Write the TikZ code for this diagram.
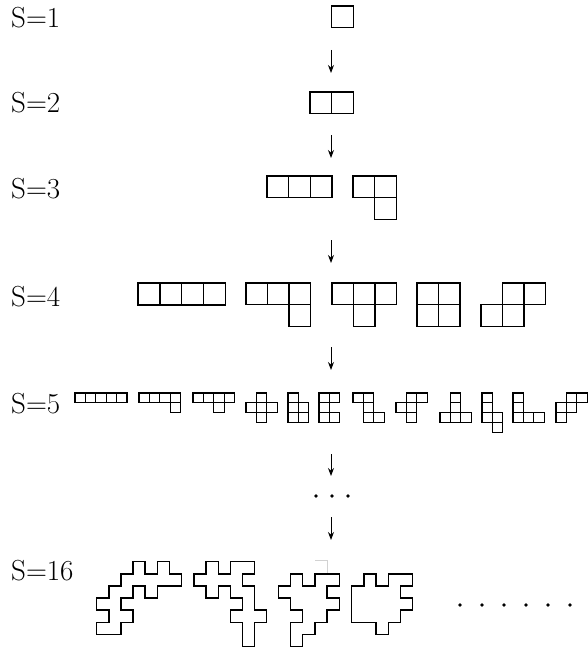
\documentclass[tikz,border=0pt]{standalone}
\usetikzlibrary{arrows.meta}
% draw a polyomino as separate unit cells: #1 origin, #2 cell width, #3 cell height, #4 list of col/row
\newcommand\polycells[4]{%
  \begin{scope}[shift={#1}, x=#2, y=-#3]
    \foreach \cx/\cy in {#4} \draw[cellline] (\cx,\cy) rectangle ++(1,1);
  \end{scope}}
\begin{document}
\begin{tikzpicture}[x=1pt,y=-1pt,
  cellline/.style={line width=1.3pt, line join=miter},
  outline/.style={line width=1.4pt, line join=miter},
  flow/.style={line width=0.9pt, -{Stealth[length=8pt,width=6pt]}},
  lbl/.style={anchor=base west, inner sep=0pt, font=\fontsize{29}{32}\selectfont},
  dot/.style={circle, fill, inner sep=0pt, minimum size=3.6pt}]
\useasboundingbox (0,0) rectangle (588,650);

% row labels
\node[lbl] (s1)  at (11,28)  {S=1};
\node[lbl] (s2)  at (11,113) {S=2};
\node[lbl] (s3)  at (11,198) {S=3};
\node[lbl] (s4)  at (11,306) {S=4};
\node[lbl] (s5)  at (11,413) {S=5};
\node[lbl] (s16) at (11,580) {S=16};

% S = 1 .. 4
\polycells{(331.5,6)}{21.7pt}{21.7pt}{0/0}
\polycells{(310,92)}{21.7pt}{21.7pt}{0/0,1/0}
\polycells{(267,176)}{21.7pt}{21.7pt}{0/0,1/0,2/0}
\polycells{(353,176)}{21.7pt}{21.7pt}{0/0,1/0,1/1}
\polycells{(138,283)}{21.9pt}{21.9pt}{0/0,1/0,2/0,3/0}
\polycells{(246,283)}{21.5pt}{21.7pt}{0/0,1/0,2/0,2/1}
\polycells{(332,283)}{21.5pt}{21.7pt}{0/0,1/0,2/0,1/1}
\polycells{(417,283)}{21.5pt}{21.7pt}{0/0,1/0,0/1,1/1}
\polycells{(481,283)}{21.5pt}{21.7pt}{1/0,2/0,0/1,1/1}

% S = 5 (twelve pentominoes: I L Y X P U Z F T N V W)
\polycells{(75,393)}{10.4pt}{9.8pt}{0/0,1/0,2/0,3/0,4/0}
\polycells{(139,393)}{10.4pt}{9.8pt}{0/0,1/0,2/0,3/0,3/1}
\polycells{(193,393)}{10.4pt}{9.8pt}{0/0,1/0,2/0,3/0,2/1}
\polycells{(246,393)}{10.4pt}{9.8pt}{1/0,0/1,1/1,2/1,1/2}
\polycells{(288,393)}{10.4pt}{9.8pt}{0/0,0/1,1/1,0/2,1/2}
\polycells{(319,393)}{10.4pt}{9.8pt}{0/0,1/0,0/1,0/2,1/2}
\polycells{(353,393)}{10.4pt}{9.8pt}{0/0,1/0,1/1,1/2,2/2}
\polycells{(396,393)}{10.4pt}{9.8pt}{1/0,2/0,0/1,1/1,1/2}
\polycells{(440,393)}{10.4pt}{9.8pt}{1/0,1/1,0/2,1/2,2/2}
\polycells{(482,393)}{10.4pt}{9.8pt}{0/0,0/1,0/2,1/2,1/3}
\polycells{(513,393)}{10.4pt}{9.8pt}{0/0,0/1,0/2,1/2,2/2}
\polycells{(556,393)}{10.4pt}{9.8pt}{1/0,2/0,0/1,1/1,0/2}

% S = 16 (outlines)
\begin{scope}[shift={(96.7,561.7)}, x=12.1pt, y=-12.1pt]
  \draw[outline] (3,0)--(3,1)--(2,1)--(2,2)--(1,2)--(1,3)--(0,3)--(0,4)--(1,4)--(1,5)--(0,5)--(0,6)--(2,6)--(2,5)--(3,5)--(3,4)--(2,4)--(2,3)--(3,3)--(3,2)--(4,2)--(4,3)--(5,3)--(5,2)--(7,2)--(7,1)--(6,1)--(6,0)--(5,0)--(5,1)--(4,1)--(4,0)--cycle;
\end{scope}
\begin{scope}[shift={(194,561.7)}, x=12.1pt, y=-12.1pt]
  \draw[outline] (1,0)--(2,0)--(2,1)--(3,1)--(3,0)--(5,0)--(5,1)--(4,1)--(4,2)--(5,2)--(5,4)--(6,4)--(6,5)--(5,5)--(5,7)--(4,7)--(4,5)--(3,5)--(3,4)--(4,4)--(4,3)--(3,3)--(3,2)--(2,2)--(2,3)--(1,3)--(1,2)--(0,2)--(0,1)--(1,1)--cycle;
\end{scope}
\begin{scope}[shift={(278.3,561.7)}, x=12.2pt, y=-12.1pt]
  \draw[outline] (1,1)--(2,1)--(2,2)--(3,2)--(3,1)--(5,1)--(5,2)--(4,2)--(4,3)--(5,3)--(5,4)--(4,4)--(4,5)--(3,5)--(3,6)--(2,6)--(2,7)--(1,7)--(1,5)--(2,5)--(2,4)--(1,4)--(1,3)--(0,3)--(0,2)--(1,2)--cycle;
\end{scope}
\begin{scope}[shift={(351.7,561.7)}, x=12.2pt, y=-12.1pt]
  \draw[outline] (0,2)--(1,2)--(1,1)--(2,1)--(2,2)--(3,2)--(3,1)--(5,1)--(5,2)--(4,2)--(4,3)--(5,3)--(5,4)--(4,4)--(4,5)--(3,5)--(3,6)--(2,6)--(2,5)--(0,5)--cycle;
\end{scope}
% faint stray mark above the third outline
\draw[gray!35, line width=0.8pt] (315,560) -- (327,560) -- (327,573);

% arrows between the rows
\coordinate (a1t) at (331,50);  \coordinate (a1b) at (331,73);
\coordinate (a2t) at (331,135); \coordinate (a2b) at (331,158);
\coordinate (a3t) at (331,240); \coordinate (a3b) at (331,263);
\coordinate (a4t) at (331,347); \coordinate (a4b) at (331,370);
\coordinate (a5t) at (331,454); \coordinate (a5b) at (331,476);
\coordinate (a6t) at (331,517); \coordinate (a6b) at (331,540);
\draw[flow] (a1t) -- (a1b);
\draw[flow] (a2t) -- (a2b);
\draw[flow] (a3t) -- (a3b);
\draw[flow] (a4t) -- (a4b);
\draw[flow] (a5t) -- (a5b);
\draw[flow] (a6t) -- (a6b);

% ellipsis between S=5 and S=16
\node[dot] (e1) at (316,496) {};
\node[dot] (e2) at (332,496) {};
\node[dot] (e3) at (348,496) {};

% trailing ellipsis after the S=16 outlines
\foreach \k [count=\i] in {0,...,5}
  \node[dot] (t\i) at (460+22*\k,605) {};
\end{tikzpicture}
\end{document}
